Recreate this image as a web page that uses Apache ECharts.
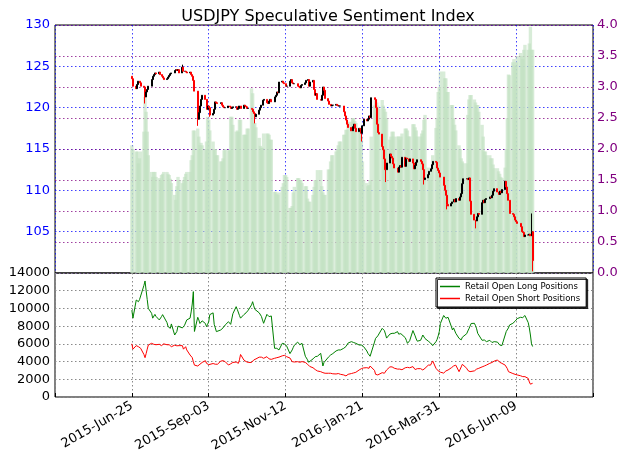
<!DOCTYPE html>
<html><head><meta charset="utf-8">
<script src="https://cdn.jsdelivr.net/npm/echarts@6/dist/echarts.min.js"></script>
<style>html,body{margin:0;padding:0;background:#fff}#c{width:624px;height:466px}</style>
</head><body><div id="c"></div>
<script>
// x axis: days counted from 2015-04-16; ticks every 70 days
const tickLabels = ['2015-Jun-25','2015-Sep-03','2015-Nov-12','2016-Jan-21','2016-Mar-31','2016-Jun-09'];
const seriesNames = ['Retail Open Long Positions','Retail Open Short Positions'];

// USDJPY daily closes, one per trading day 2015-06-25 .. 2016-06-24
const firstOpen = 123.8;
const closes = [
123.5,122.6,
122.3,122.8,123.2,123.0,122.6,
122.5,121.3,121.9,122.2,122.6,
123.4,123.8,124.0,124.2,124.1,
124.3,124.0,123.8,123.6,123.4,
123.5,123.7,123.9,124.1,124.2,
124.5,124.6,124.5,124.6,124.2,
124.9,124.4,124.4,124.3,124.2,
124.3,124.0,123.8,123.3,122.0,
118.6,119.4,120.2,121.0,121.5,
121.0,119.8,120.2,120.0,119.1,
119.3,119.8,120.7,120.6,120.5,
120.6,120.3,120.1,120.0,120.0,
120.2,120.1,119.9,120.0,120.1,
120.1,119.8,119.9,120.2,119.9,
120.3,120.2,120.1,119.9,119.9,
119.8,119.5,119.3,118.9,119.2,
119.7,120.0,120.3,120.9,121.0,
120.6,120.5,120.8,121.0,120.7,
121.3,121.5,121.9,121.8,123.1,
123.2,123.0,122.9,122.6,122.6,
123.2,123.4,123.0,122.9,122.9,
122.6,122.5,122.4,122.7,122.8,
123.0,123.3,123.4,122.6,123.1,
123.3,122.2,121.5,121.7,121.0,
120.9,121.5,122.5,122.1,121.1,
120.8,120.4,120.2,120.3,120.3,
120.4,120.3,120.2,120.2,120.2,
119.5,119.0,118.5,118.0,117.6,
117.2,117.7,118.0,117.5,117.1,
117.5,117.4,116.9,117.8,118.6,
118.4,118.6,119.0,118.8,121.2,
121.0,120.0,118.0,117.0,116.8,
115.3,114.9,113.8,112.5,113.3,
114.4,114.1,113.9,113.2,112.7,
112.2,112.8,113.0,112.8,114.0,
112.9,113.9,113.8,113.5,113.8,
113.3,112.6,113.0,113.4,113.7,
113.5,113.2,112.5,111.3,111.5,
111.9,112.3,112.6,113.1,113.5,
113.4,112.7,112.4,112.1,111.6,
110.6,110.0,109.4,108.3,108.1,
108.4,108.6,108.9,108.6,109.0,
108.8,109.2,109.6,110.8,111.4,
111.4,111.3,111.5,108.7,107.1,
106.4,106.3,106.8,107.2,107.1,
108.5,108.8,108.5,108.9,109.0,
109.2,109.1,109.4,109.9,110.2,
109.8,109.5,109.9,109.7,110.1,
111.1,110.4,109.6,108.8,107.2,
107.1,106.8,106.4,106.2,106.0,
105.6,105.0,104.9,104.4,104.6,
104.6,104.7,104.5,105.0,101.5
];
// notable wick extremes: [trading-day index, low, high]
const wicks = [[8,120.5,null],[32,null,125.2],[42,117.8,null],[51,118.9,null],[80,118.1,null],
  [149,115.9,null],[165,111.0,null],[190,110.7,null],[205,107.7,null],[223,105.4,null],
  [260,null,107.2],[261,100.2,null]];

// speculative sentiment ratio (right axis)
const ratio = [
2.06,2.0,
1.96,1.96,1.77,1.85,1.96,
2.28,2.84,2.6,2.28,1.9,
1.63,1.55,1.63,1.63,1.55,
1.53,1.5,1.58,1.6,1.63,
1.63,1.6,1.58,1.52,1.45,
1.26,1.18,1.4,1.55,1.5,
1.45,1.5,1.55,1.6,1.63,
1.63,1.82,1.9,2.3,2.3,
2.33,2.2,2.06,2.1,2.06,
2.0,2.12,2.52,2.47,2.3,
2.12,2.0,2.0,1.9,1.9,
1.8,1.8,1.85,1.98,2.0,
1.98,1.98,2.52,2.52,2.39,
2.28,2.3,2.28,2.47,2.47,
2.23,2.23,2.23,2.33,2.33,
2.98,2.9,2.42,2.42,2.35,
2.18,2.05,2.02,2.02,2.25,
2.25,2.25,2.23,2.15,2.15,
1.31,1.31,1.28,1.26,1.3,
1.39,1.45,1.58,1.58,1.55,
1.05,1.05,1.08,1.3,1.39,
1.53,1.53,1.5,1.5,1.45,
1.4,1.4,1.2,1.15,1.15,
1.26,1.39,1.5,1.5,1.66,
1.66,1.4,1.3,1.26,1.26,
1.67,1.67,1.8,1.9,1.9,
1.96,2.0,2.06,2.12,2.12,
2.23,2.23,2.31,2.31,2.44,
2.44,2.5,2.5,2.45,2.42,
2.28,2.28,2.2,1.8,1.5,
1.45,1.4,1.42,1.5,2.2,
2.7,2.8,2.75,2.7,2.65,
2.79,2.7,2.65,2.6,2.5,
2.15,2.2,2.28,2.28,2.2,
2.2,2.2,2.15,2.2,2.25,
2.33,2.33,2.3,2.2,2.2,
2.4,2.4,2.35,2.3,2.2,
2.2,2.25,2.3,2.47,2.55,
1.7,1.6,1.5,1.7,1.9,
2.34,2.5,2.92,3.0,3.25,
3.25,3.14,3.14,2.92,2.92,
2.71,2.71,2.5,2.39,2.3,
2.06,2.0,1.85,1.8,1.77,
1.77,2.55,2.8,2.87,2.87,
2.8,2.75,2.71,2.71,2.6,
2.39,2.2,1.96,1.96,1.9,
1.9,1.85,1.85,1.75,1.69,
1.69,1.64,1.6,1.55,1.53,
1.7,2.0,2.5,3.2,3.19,
3.4,3.45,3.35,3.4,3.5,
3.55,3.5,3.45,3.6,3.68,
3.6,3.7,3.97,3.6,3.6
];

const longPos = [
9800,8900,
10950,10900,10760,11000,11200,
12600,13100,12000,11000,10000,
9450,8900,9000,9330,9100,
8700,8600,9070,9300,9450,
8400,7950,7850,7750,8250,
7000,7100,7400,8000,7800,
7800,7950,8100,8300,8700,
8900,9600,10500,11900,7400,
9000,8700,8300,8130,8600,
8300,7940,8200,8500,9300,
9500,8200,7800,7380,7500,
7570,7570,7800,8000,8130,
8500,8300,8200,8130,9400,
10200,9900,9820,9200,8900,
9300,9300,9500,9640,9800,
10400,10760,10300,9900,9800,
9500,9450,9100,8700,8320,
9330,9150,9070,9260,9150,
5500,5350,5500,5400,5310,
6060,5950,6000,6060,5750,
4900,5100,5310,5600,5850,
6200,6060,5900,5950,6060,
4600,4400,4200,3920,4100,
4300,4370,4550,4550,4600,
4930,4200,3500,3900,4100,
4500,4650,4740,4800,4900,
5200,5310,5310,5310,5310,
5500,5600,5700,5870,6100,
6250,6250,6150,6100,6060,
5870,5870,5870,5870,5700,
5200,4930,4800,4600,4700,
6200,6620,6750,6900,7000,
7750,7940,7500,7100,6650,
7100,7190,7190,7190,7190,
7380,7100,7000,7150,7190,
6700,6400,6060,6200,6350,
7500,7380,6900,6550,6300,
6400,6700,7000,6850,6600,
6300,6250,6100,5950,5800,
6250,6500,6900,7380,8300,
9200,9150,8890,9000,9000,
7950,7570,7800,7800,7200,
6620,6500,6450,6750,6850,
7150,7450,7700,8000,8300,
8320,8050,7700,7190,7000,
6400,6300,6440,6350,6250,
6400,6300,6150,6100,6250,
6200,6000,5870,5830,5800,
7000,7400,7500,7800,8130,
8320,8450,8550,8700,8850,
9000,9070,8960,9050,9200,
8400,7800,7000,6000,5700
];

const shortPos = [
6000,5400,
5800,5870,5680,5600,5500,
4800,4440,4900,5400,5870,
6060,6000,5950,5870,5900,
5950,5850,5800,5900,6000,
5900,6060,5900,5800,5680,
5850,5870,5780,5680,5800,
5800,5400,5550,5680,5310,
4740,4650,4450,3990,3600,
3500,3610,3700,3800,3900,
4100,3800,3700,3650,3610,
3780,3750,3700,3610,3700,
4050,4180,4100,4000,3990,
3610,3700,3750,3800,3900,
3950,3850,3800,4200,4800,
4180,4100,4000,3990,3900,
3900,4000,4180,4250,4300,
4500,4600,4500,4400,4370,
4550,4450,4300,4180,4250,
4370,4400,4440,4500,4500,
4650,4740,4700,4600,4550,
4400,4440,3990,3920,3950,
3990,3970,3920,3950,4000,
3900,3800,3700,3550,3450,
3300,3240,3100,2950,2940,
2860,2800,2750,2680,2680,
2680,2680,2680,2650,2620,
2600,2680,2650,2600,2560,
2490,2450,2380,2450,2560,
2650,2680,2720,2760,2790,
3050,3120,3200,3240,3280,
3310,3280,3240,3500,3690,
3000,2560,2520,2490,2600,
2750,2700,2680,2800,3050,
3400,3540,3400,3310,3250,
3150,3240,3150,3050,3080,
3300,3430,3350,3240,3300,
3430,3300,3100,3050,3200,
3200,3100,3050,3150,3240,
3600,3430,3600,3800,4070,
3240,3050,2950,2860,2800,
2700,2800,2940,3000,3050,
3300,3430,3500,3610,3600,
2860,3050,3400,3690,3800,
3240,3000,2860,2860,2860,
2950,3050,3150,3240,3240,
3400,3430,3500,3600,3610,
3800,3850,3900,3950,4050,
4180,4050,3920,3850,3800,
3600,3430,3200,2860,2860,
2650,2600,2560,2500,2490,
2400,2300,2300,2300,2300,
2100,1700,1450,1500,1550
];

// trading days (weekdays) from 2015-06-25 (day 70) to 2016-06-24 (day 435)
const days = [];
for (let d = 70; d <= 435; d++) { const dow = (d - 70 + 4) % 7; if (dow !== 6 && dow !== 0) days.push(d); }

const candles = closes.map((c, i) => {
  const o = i === 0 ? firstOpen : closes[i - 1];
  return [days[i], o, c, Math.min(o, c), Math.max(o, c)];
});
wicks.forEach(([i, l, h]) => { if (l != null) candles[i][3] = l; if (h != null) candles[i][4] = h; });

const chart = echarts.init(document.getElementById('c'), null, {renderer: 'canvas'});
const font = 'DejaVu Sans';
const blueDot = {color: 'rgba(0,0,255,0.75)', type: [1.5, 2.5], width: 1};
const purpleDot = {color: 'rgba(128,0,128,0.75)', type: [1.5, 2.5], width: 1};
const grayDot = {color: '#8a8a8a', type: [1.5, 2.5], width: 1};

chart.setOption({
  animation: false,
  backgroundColor: '#fff',
  textStyle: {fontFamily: font},
  title: {text: 'USDJPY Speculative Sentiment Index', left: 323, textAlign: 'center', top: 4,
    textStyle: {fontSize: 16, fontWeight: 'normal', color: '#000', fontFamily: font}},
  legend: {data: seriesNames, orient: 'vertical', left: 436, top: 278, icon: 'rect',
    itemWidth: 20, itemHeight: 1.5, itemGap: 3, padding: [4, 6, 4, 4],
    borderColor: '#000', borderWidth: 1, backgroundColor: '#fff',
    shadowColor: 'rgba(0,0,0,0.8)', shadowOffsetX: 1.5, shadowOffsetY: 1.5, shadowBlur: 0,
    textStyle: {fontSize: 8.5, color: '#000', fontFamily: font}},
  grid: [
    {left: 55, right: 31, top: 25, height: 248, show: true, borderColor: '#000', borderWidth: 1, backgroundColor: 'transparent'},
    {left: 55, right: 31, top: 273, height: 124, show: true, borderColor: '#000', borderWidth: 1, backgroundColor: 'transparent'}
  ],
  xAxis: [
    {gridIndex: 0, type: 'value', min: 0, max: 490, interval: 70,
      axisLine: {show: false}, axisTick: {show: false}, axisLabel: {show: false},
      splitLine: {show: true, lineStyle: blueDot}},
    {gridIndex: 1, type: 'value', min: 0, max: 490, interval: 70,
      axisLine: {show: false}, axisTick: {show: true, inside: true, length: 4, lineStyle: {color: '#000'}},
      axisLabel: {rotate: 30, fontSize: 13, color: '#000', margin: 8, fontFamily: font,
        formatter: v => { const k = Math.round(v / 70); return (k >= 1 && k <= tickLabels.length) ? tickLabels[k - 1] : ''; }},
      splitLine: {show: true, lineStyle: grayDot}}
  ],
  yAxis: [
    {gridIndex: 0, type: 'value', position: 'left', min: 100, max: 130, interval: 5,
      axisLine: {show: false}, axisTick: {show: false},
      axisLabel: {color: '#0000ff', fontSize: 13, margin: 5, fontFamily: font, formatter: v => v === 100 ? '' : String(v)},
      splitLine: {show: true, lineStyle: blueDot}},
    {gridIndex: 0, type: 'value', position: 'right', min: 0, max: 4, interval: 0.5,
      axisLine: {show: false}, axisTick: {show: false},
      axisLabel: {color: '#800080', fontSize: 13, margin: 4, fontFamily: font, formatter: v => v.toFixed(1)},
      splitLine: {show: true, lineStyle: purpleDot}},
    {gridIndex: 1, type: 'value', position: 'left', min: 0, max: 14000, interval: 2000,
      axisLine: {show: false}, axisTick: {show: false},
      axisLabel: {color: '#000', fontSize: 13, margin: 5, fontFamily: font, formatter: v => String(v)},
      splitLine: {show: true, lineStyle: grayDot}}
  ],
  series: [
    {type: 'bar', name: 'ratio', xAxisIndex: 0, yAxisIndex: 1, z: 1, barWidth: 3.4,
      itemStyle: {color: 'rgba(193,225,193,0.63)'},
      data: ratio.map((r, i) => [days[i], r])},
    {type: 'candlestick', name: 'USDJPY', xAxisIndex: 0, yAxisIndex: 0, z: 3, barWidth: 1.5,
      itemStyle: {color: '#000', color0: '#ff0000', borderColor: '#000', borderColor0: '#ff0000', borderWidth: 1},
      data: candles},
    {type: 'line', name: seriesNames[0], xAxisIndex: 1, yAxisIndex: 2, symbol: 'none',
      lineStyle: {color: '#008000', width: 1}, itemStyle: {color: '#008000'},
      data: longPos.map((v, i) => [days[i], v])},
    {type: 'line', name: seriesNames[1], xAxisIndex: 1, yAxisIndex: 2, symbol: 'none',
      lineStyle: {color: '#ff0000', width: 1}, itemStyle: {color: '#ff0000'},
      data: shortPos.map((v, i) => [days[i], v])}
  ]
});
</script></body></html>
